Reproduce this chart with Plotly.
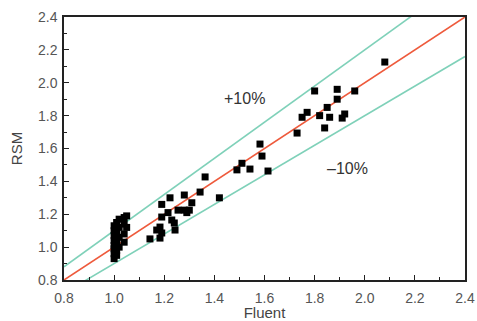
import plotly.graph_objects as go

# Data
fluent = [
    1.00, 1.00, 1.00, 1.00, 1.00, 1.00, 1.00, 1.00,
    1.01, 1.01, 1.01, 1.01, 1.01, 1.01,
    1.02, 1.02, 1.02, 1.02,
    1.04, 1.04, 1.04, 1.04,
    1.05, 1.05,
    1.143, 1.183, 1.19, 1.17, 1.243, 1.183, 1.24, 1.23, 1.19, 1.215,
    1.255, 1.28, 1.30, 1.29, 1.31, 1.19, 1.223, 1.28, 1.343, 1.363, 1.42,
    1.49, 1.51, 1.542, 1.582, 1.59, 1.614,
    1.73, 1.75, 1.77, 1.80, 1.82, 1.84, 1.85, 1.86, 1.89, 1.89,
    1.91, 1.92, 1.96, 2.08,
]
rsm = [
    0.93, 0.96, 0.99, 1.01, 1.04, 1.07, 1.10, 1.13,
    0.95, 0.98, 1.02, 1.05, 1.09, 1.15,
    1.00, 1.06, 1.12, 1.17,
    1.03, 1.08, 1.14, 1.18,
    1.12, 1.19,
    1.05, 1.055, 1.086, 1.104, 1.104, 1.122, 1.147, 1.165, 1.183, 1.21,
    1.225, 1.225, 1.225, 1.21, 1.27, 1.26, 1.30, 1.317, 1.335, 1.427, 1.30,
    1.47, 1.51, 1.475, 1.627, 1.554, 1.463,
    1.694, 1.79, 1.82, 1.95, 1.80, 1.725, 1.85, 1.79, 1.96, 1.90,
    1.785, 1.81, 1.95, 2.126,
]
line_x = [0.8, 2.4]
ref_factor = [1.0, 1.1, 0.9]
ref_colors = ["#ee5a3c", "#7fd1b9", "#7fd1b9"]

fig = go.Figure()
for f, c in zip(ref_factor, ref_colors):
    fig.add_trace(go.Scatter(x=line_x, y=[v * f for v in line_x], mode="lines",
                             line=dict(color=c, width=1.6), showlegend=False,
                             hoverinfo="skip"))
fig.add_trace(go.Scatter(x=fluent, y=rsm, mode="markers",
                         marker=dict(symbol="square", size=7, color="black",
                                     line=dict(width=0)),
                         showlegend=False))

fig.add_annotation(x=1.522, y=1.907, text="+10%", showarrow=False,
                   font=dict(size=16, color="#333333", family="Liberation Sans"))
fig.add_annotation(x=1.933, y=1.48, text="\u201310%", showarrow=False,
                   font=dict(size=16, color="#333333", family="Liberation Sans"))

axis_common = dict(
    showgrid=False, zeroline=False, showline=True, linecolor="#222222",
    linewidth=1.5, mirror=True, ticks="inside", ticklen=5, tickwidth=1.2,
    tickcolor="#222222", dtick=0.2, tickformat=".1f", automargin=False,
    tickfont=dict(size=14, color="#555555", family="Liberation Sans"),
    minor=dict(ticks="inside", ticklen=3, dtick=0.1, tickcolor="#222222"),
)
fig.update_xaxes(range=[0.8, 2.4], tick0=0.8, ticklabelstandoff=4,
                 title=dict(text="Fluent", standoff=2,
                            font=dict(size=15, color="#444444", family="Liberation Sans")),
                 **axis_common)
fig.update_yaxes(range=[0.8, 2.4], tick0=0.8, ticklabelstandoff=2,
                 title=dict(text="RSM", standoff=12,
                            font=dict(size=15, color="#444444", family="Liberation Sans")),
                 **axis_common)
fig.update_layout(width=477, height=321, autosize=False,
                  margin=dict(l=64, r=12, t=17, b=41),
                  plot_bgcolor="white", paper_bgcolor="white")
fig.write_html("out.html",
               config={"responsive": False, "displayModeBar": False},
               post_script="document.body.style.margin='0';")
